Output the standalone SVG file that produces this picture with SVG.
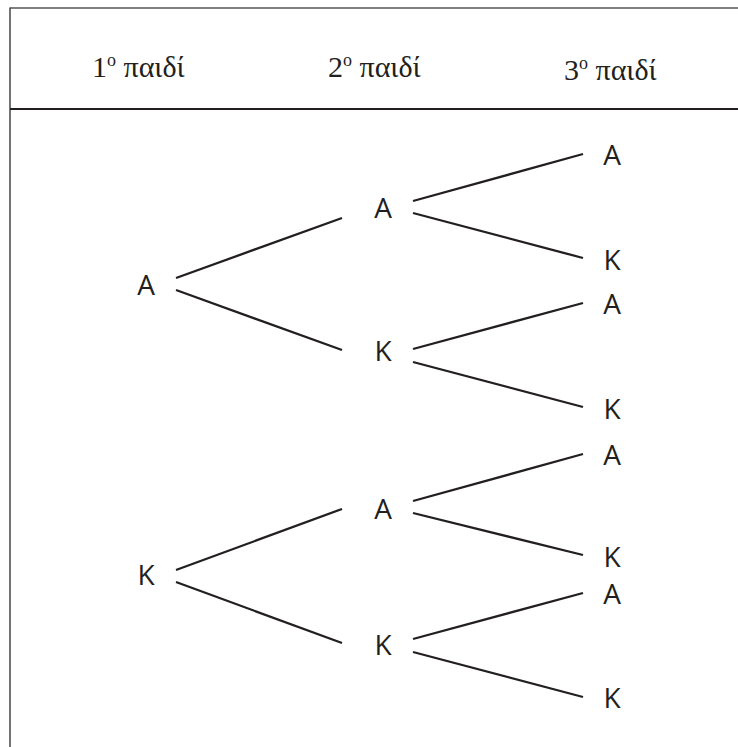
<svg xmlns="http://www.w3.org/2000/svg" width="738" height="747" viewBox="0 0 738 747">
<style>
.hdr{font-family:"Liberation Serif","Times New Roman",serif;font-size:30px;fill:#231f20}
.sup{font-size:18px}
.lbl{font-family:"Open Sans","Noto Sans",sans-serif;font-size:28px;fill:#231f20;text-anchor:middle}
.br{stroke:#231f20;stroke-width:2.3;fill:none;stroke-linecap:butt}
</style>
<rect width="738" height="747" fill="#ffffff"/>
<g id="frame">
<line x1="10" y1="8" x2="738" y2="8" stroke="#555" stroke-width="1.5"/>
<line x1="10" y1="7.5" x2="10" y2="747" stroke="#444" stroke-width="1.5"/>
<line x1="10" y1="109" x2="738" y2="109" stroke="#231f20" stroke-width="2.2"/>
</g>
<g id="header">
<text class="hdr" x="92" y="77">1<tspan class="sup" dy="-11">ο</tspan><tspan dy="11"> παιδί</tspan></text>
<text class="hdr" x="328" y="77">2<tspan class="sup" dy="-11">ο</tspan><tspan dy="11"> παιδί</tspan></text>
<text class="hdr" x="564" y="80">3<tspan class="sup" dy="-11">ο</tspan><tspan dy="11"> παιδί</tspan></text>
</g>
<g id="connectors">
<line class="br" x1="176" y1="278" x2="342" y2="218"/>
<line class="br" x1="176" y1="290" x2="342" y2="350"/>
<line class="br" x1="176" y1="570" x2="342" y2="509"/>
<line class="br" x1="176" y1="582" x2="342" y2="643"/>
<line class="br" x1="413" y1="201" x2="583" y2="154"/>
<line class="br" x1="413" y1="213" x2="583" y2="258"/>
<line class="br" x1="413" y1="349" x2="583" y2="303"/>
<line class="br" x1="413" y1="362" x2="583" y2="407"/>
<line class="br" x1="413" y1="501" x2="583" y2="454"/>
<line class="br" x1="413" y1="513" x2="583" y2="555"/>
<line class="br" x1="413" y1="639" x2="583" y2="593"/>
<line class="br" x1="413" y1="652" x2="583" y2="697"/>
</g>
<g id="n1a"><text class="lbl" x="146" y="295">Α</text></g>
<g id="n1k"><text class="lbl" x="146" y="585">Κ</text></g>
<g id="n2a1"><text class="lbl" x="383" y="218">Α</text></g>
<g id="n2k1"><text class="lbl" x="383" y="361">Κ</text></g>
<g id="n2a2"><text class="lbl" x="383" y="519">Α</text></g>
<g id="n2k2"><text class="lbl" x="383" y="655">Κ</text></g>
<g id="n3a1"><text class="lbl" x="612" y="165">Α</text></g>
<g id="n3k1"><text class="lbl" x="612" y="270">Κ</text></g>
<g id="n3a2"><text class="lbl" x="612" y="314">Α</text></g>
<g id="n3k2"><text class="lbl" x="612" y="419">Κ</text></g>
<g id="n3a3"><text class="lbl" x="612" y="465">Α</text></g>
<g id="n3k3"><text class="lbl" x="612" y="567">Κ</text></g>
<g id="n3a4"><text class="lbl" x="612" y="604">Α</text></g>
<g id="n3k4"><text class="lbl" x="612" y="708">Κ</text></g>
</svg>
